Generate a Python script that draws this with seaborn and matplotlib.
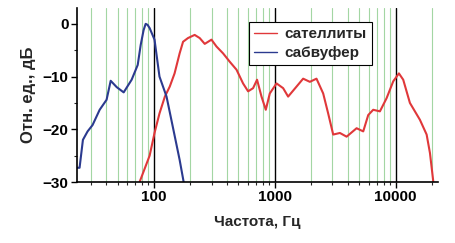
import numpy as np
import pandas as pd
import matplotlib
matplotlib.use("Agg")
import matplotlib.pyplot as plt
import seaborn as sns
from matplotlib.ticker import FixedLocator, NullFormatter

# --- data ---
sub_freq = [22.9, 24.2, 25.8, 28.2, 31.0, 35.5, 40.5, 43.8, 49.1, 56.1, 65.3, 73.3,
            77.6, 82.0, 85.3, 88.5, 92, 101, 111, 127, 143, 163, 176]
sub_db = [-27.3, -27.3, -22.0, -20.4, -19.2, -16.3, -14.4, -10.8, -12.0, -13.0, -10.6, -7.8,
          -4.0, -1.2, 0.0, -0.2, -0.8, -3.0, -10.0, -13.8, -19.5, -25.8, -30.0]

sat_freq = [76, 92, 101, 111, 123, 135, 148, 163, 174, 191, 217, 239, 263, 299, 329, 373,
            424, 482, 546, 601, 661, 713, 776, 842, 909, 1033, 1172, 1289, 1513, 1716, 1950,
            2213, 2514, 2765, 3043, 3457, 3929, 4753, 5394, 5933, 6524, 7413, 8420, 9557,
            10650, 11560, 13130, 15890, 18060, 19240, 20500]
sat_db = [-30.0, -25.0, -20.7, -17.0, -13.8, -11.9, -9.4, -5.6, -3.4, -2.7, -2.1, -2.7, -3.8,
          -3.0, -4.3, -5.6, -7.2, -8.7, -11.3, -12.8, -12.2, -10.6, -13.8, -16.3, -13.2, -11.3,
          -12.2, -13.8, -11.9, -10.4, -11.0, -10.4, -13.2, -17.0, -21.0, -20.7, -21.4, -19.8,
          -20.4, -17.3, -16.3, -16.6, -14.1, -10.9, -9.4, -10.6, -15.0, -18.2, -21.0, -24.5,
          -29.9]

series_names = ["сателлиты", "сабвуфер"]
x_ticks = [100, 1000, 10000]
x_tick_labels = ["100", "1000", "10000"]
y_ticks = [0, -10, -20, -30]

df = pd.concat([
    pd.DataFrame({"f": sat_freq, "db": sat_db, "s": series_names[0]}),
    pd.DataFrame({"f": sub_freq, "db": sub_db, "s": series_names[1]}),
])

sns.set_style("white")
plt.rcParams["font.family"] = ["Liberation Sans", "DejaVu Sans"]
plt.rcParams["font.weight"] = "bold"

fig = plt.figure(figsize=(4.55, 2.43), dpi=100)
ax = fig.add_axes([0.169, 0.251, 0.794, 0.716])

minor = [m * d for d in (10, 100, 1000, 10000) for m in range(2, 10)]
minor = [v for v in minor if 23 <= v <= 22000]
for v in minor:
    ax.axvline(v, color="#a3d6a3", lw=0.8, zorder=0)
for v in x_ticks:
    ax.axvline(v, color="black", lw=1.0, zorder=0)

sns.lineplot(data=df, x="f", y="db", hue="s", palette=["#e0383a", "#2b3a8f"],
             sort=False, estimator=None, lw=1.5, ax=ax)

ax.set_xscale("log")
ax.set_xlim(23, 22500)
ax.set_ylim(-30, 3)
ax.xaxis.set_major_locator(FixedLocator(x_ticks))
ax.set_xticklabels(x_tick_labels)
ax.xaxis.set_minor_locator(FixedLocator(minor))
ax.xaxis.set_minor_formatter(NullFormatter())
ax.set_yticks(y_ticks)
ax.set_yticks([-5, -15, -25], minor=True)

for s in ["top", "right"]:
    ax.spines[s].set_visible(False)
for s in ["left", "bottom"]:
    ax.spines[s].set_color("black")
    ax.spines[s].set_linewidth(1.2)

ax.tick_params(axis="both", which="major", direction="out", length=4, width=1,
               labelsize=11, colors="black", bottom=True, left=True, pad=2)
ax.tick_params(axis="both", which="minor", direction="out", length=2.5, width=0.8,
               bottom=True, left=True)
for lab in ax.get_xticklabels() + ax.get_yticklabels():
    lab.set_fontweight("bold")

ax.set_xlabel("Частота, Гц", fontsize=11, fontweight="bold", labelpad=8)
ax.set_ylabel("Отн. ед., дБ", fontsize=12, fontweight="bold", labelpad=5)

leg = ax.legend(loc="upper right", bbox_to_anchor=(0.817, 0.92), borderaxespad=0,
                frameon=True, fancybox=False, edgecolor="black",
                handlelength=1.5, handletextpad=0.5, borderpad=0.35, labelspacing=0.3,
                prop={"weight": "bold", "size": 11})
leg.get_frame().set_linewidth(0.8)
leg.get_frame().set_alpha(1)
for ln in leg.get_lines():
    ln.set_linewidth(1.0)

fig.savefig("out.png", dpi=100)
